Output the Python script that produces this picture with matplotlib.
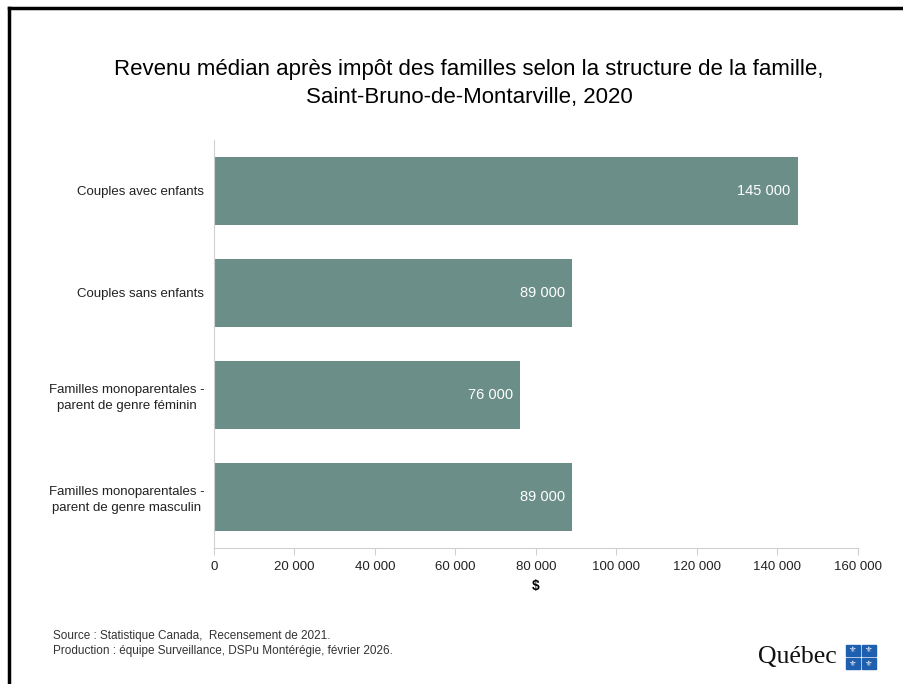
import matplotlib.pyplot as plt
from matplotlib.patches import Rectangle
from matplotlib.lines import Line2D
from matplotlib.ticker import FuncFormatter

categories = ['Couples avec enfants',
              'Couples sans enfants',
              'Familles monoparentales -\nparent de genre féminin',
              'Familles monoparentales -\nparent de genre masculin']
revenus = [145000, 89000, 76000, 89000]
xticks = [0, 20000, 40000, 60000, 80000, 100000, 120000, 140000, 160000]

plt.rcParams['font.family'] = ['Liberation Sans', 'DejaVu Sans']

bar_color = '#6b8f88'
grey = '#d0d0d0'


def espace(v, pos=None):
    return f'{int(v):,}'.replace(',', ' ')


fig = plt.figure(figsize=(9.04, 6.84), dpi=100)
ax = fig.add_axes([214 / 904, 1 - 548 / 684, (858 - 214) / 904, (548 - 140) / 684])

y = range(len(categories))
bars = ax.barh(y, revenus, height=0.67, color=bar_color)
ax.set_ylim(len(categories) - 0.5, -0.5)
ax.set_xlim(0, 160000)
ax.set_yticks(list(y))
ax.set_yticklabels(categories, fontsize=9.5, color='#222222', linespacing=1.35)
for lab in ax.get_yticklabels():
    lab.set_multialignment('center')
ax.set_xticks(xticks)
ax.xaxis.set_major_formatter(FuncFormatter(espace))
ax.tick_params(axis='x', labelsize=9.5, colors=grey, labelcolor='#222222',
               length=5, pad=4)
ax.tick_params(axis='y', length=0, pad=7)
for s in ['top', 'right']:
    ax.spines[s].set_visible(False)
ax.spines['left'].set_color(grey)
ax.spines['bottom'].set_color(grey)
ax.set_xlabel('$', fontsize=10, fontweight='bold', labelpad=5)

for b, v in zip(bars, revenus):
    ax.text(b.get_width() - 1800, b.get_y() + b.get_height() / 2, espace(v),
            ha='right', va='center', color='white', fontsize=10.5)

fig.text(0.519, 1 - 70 / 684, 'Revenu médian après impôt des familles selon la structure de la famille,',
         ha='center', va='center', fontsize=16)
fig.text(0.519, 1 - 97 / 684, 'Saint-Bruno-de-Montarville, 2020',
         ha='center', va='center', fontsize=16)

fig.text(53 / 904, 1 - 636 / 684, 'Source : Statistique Canada,  Recensement de 2021.',
         fontsize=8.5, color='#333333', va='center')
fig.text(53 / 904, 1 - 651 / 684, 'Production : équipe Surveillance, DSPu Montérégie, février 2026.',
         fontsize=8.5, color='#333333', va='center')

# cadre (bords gauche et haut)
fig.add_artist(Line2D([9 / 904, 9 / 904], [0, 1 - 8 / 684], color='black', lw=2.5))
fig.add_artist(Line2D([9 / 904, 1], [1 - 8 / 684, 1 - 8 / 684], color='black', lw=2.5))

# logo Québec
fig.text(797 / 904, 1 - 657 / 684, 'Québec', family='Liberation Serif',
         fontsize=18.5, ha='center', va='center', color='#111111')
for cx, cy in [(853, 650), (869, 650), (853, 663), (869, 663)]:
    fig.add_artist(Rectangle(((cx - 7) / 904, 1 - (cy + 5.5) / 684), 14 / 904, 11 / 684,
                             color='#1f5fb0', transform=fig.transFigure))
    fig.text(cx / 904, 1 - cy / 684, '⚜', family='DejaVu Sans', fontsize=6,
             color='white', ha='center', va='center')

fig.savefig('out.png', dpi=100)
